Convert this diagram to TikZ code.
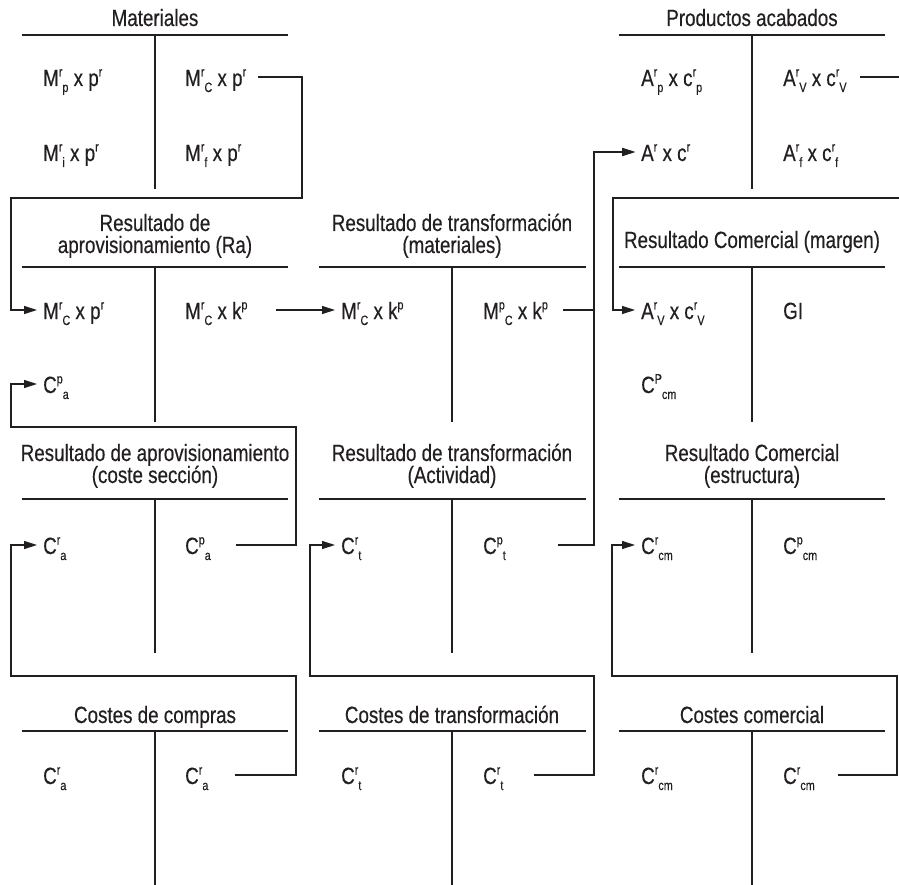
\documentclass[tikz,border=0pt]{standalone}
\usepackage{fontspec}
\setmainfont{Liberation Sans}[FakeStretch=0.80,FakeBold=0.4]
\usetikzlibrary{arrows.meta}
\definecolor{ink}{HTML}{231F20}
\newcommand\smallidx{\fontsize{13.5}{13.5}\selectfont}
\newcommand\supsb[2]{\raisebox{9.5pt}{\smallidx #1}\raisebox{-6pt}{\smallidx #2}}
\newcommand\supo[1]{\raisebox{9.5pt}{\smallidx #1}}
\begin{document}
\begin{tikzpicture}[x=1pt,y=-1pt,
  every node/.style={inner sep=0pt, text=ink, font=\fontsize{23.5}{22}\selectfont},
  ttl/.style={anchor=base},
  ent/.style={anchor=west, text height=18pt, text depth=0pt},
  tline/.style={line width=1.2pt, draw=ink},
  conn/.style={line width=1.2pt, draw=ink},
  arr/.style={conn, -{Triangle[length=13pt,width=8pt]}, shorten >=6pt}]
\useasboundingbox (0,0) rectangle (899,885);

% ---------- T accounts ----------
% row 1
\draw[tline] (22,35) -- (288,35) (155,35) -- (155,189);
\draw[tline] (619,35) -- (885,35) (752,35) -- (752,189);
% row 2
\draw[tline] (22,267) -- (288,267) (155,267) -- (155,422);
\draw[tline] (319,267) -- (586,267) (452,267) -- (452,422);
\draw[tline] (619,267) -- (885,267) (752,267) -- (752,422);
% row 3
\draw[tline] (22,499) -- (288,499) (155,499) -- (155,653);
\draw[tline] (319,499) -- (586,499) (452,499) -- (452,653);
\draw[tline] (619,499) -- (885,499) (752,499) -- (752,653);
% row 4
\draw[tline] (22,731) -- (288,731) (155,731) -- (155,885);
\draw[tline] (319,731) -- (586,731) (452,731) -- (452,885);
\draw[tline] (619,731) -- (885,731) (752,731) -- (752,885);

% ---------- titles ----------
\node[ttl] (tMat) at (155,26) {Materiales};
\node[ttl] (tPA) at (752,26) {Productos acabados};
\node[ttl] (tRa1) at (155,231) {Resultado de};
\node[ttl] (tRa2) at (155,253) {aprovisionamiento (Ra)};
\node[ttl] (tRt1) at (452,231) {Resultado de transformación};
\node[ttl] (tRt2) at (452,253) {(materiales)};
\node[ttl] (tRc) at (752,248) {Resultado Comercial (margen)};
\node[ttl] (tRs1) at (155,461) {Resultado de aprovisionamiento};
\node[ttl] (tRs2) at (155,483) {(coste sección)};
\node[ttl] (tRa3) at (452,461) {Resultado de transformación};
\node[ttl] (tRa4) at (452,483) {(Actividad)};
\node[ttl] (tRe1) at (752,461) {Resultado Comercial};
\node[ttl] (tRe2) at (752,483) {(estructura)};
\node[ttl] (tCc) at (155,723) {Costes de compras};
\node[ttl] (tCt) at (452,723) {Costes de transformación};
\node[ttl] (tCm) at (752,723) {Costes comercial};

% ---------- entries ----------
% row 1
\node[ent] (m1pl) at (43,77) {M\supsb{r}{p} x p\supo{r}};
\node[ent] (m1cr) at (185,77) {M\supsb{r}{C} x p\supo{r}};
\node[ent] (m1il) at (43,152) {M\supsb{r}{i} x p\supo{r}};
\node[ent] (m1fr) at (185,152) {M\supsb{r}{f} x p\supo{r}};
\node[ent] (a1pl) at (641,77) {A\supsb{r}{p} x c\supsb{r}{p}};
\node[ent] (a1vr) at (783,77) {A\supsb{r}{V} x c\supsb{r}{V}};
\node[ent] (a1l) at (641,152) {A\supo{r} x c\supo{r}};
\node[ent] (a1fr) at (783,152) {A\supsb{r}{f} x c\supsb{r}{f}};
% row 2
\node[ent] (r2cl) at (43,310) {M\supsb{r}{C} x p\supo{r}};
\node[ent] (r2kr) at (185,310) {M\supsb{r}{C} x k\supo{p}};
\node[ent] (r2pa) at (43,384) {C\supsb{p}{a}};
\node[ent] (t2l) at (341,310) {M\supsb{r}{C} x k\supo{p}};
\node[ent] (t2r) at (483,310) {M\supsb{p}{C} x k\supo{p}};
\node[ent] (c2l) at (641,310) {A\supsb{r}{V} x c\supsb{r}{V}};
\node[ent] (c2gi) at (783,310) {GI};
\node[ent] (c2p) at (641,384) {C\supsb{P}{cm}};
% row 3
\node[ent] (a3l) at (43,545) {C\supsb{r}{a}};
\node[ent] (a3r) at (185,545) {C\supsb{p}{a}};
\node[ent] (t3l) at (341,545) {C\supsb{r}{t}};
\node[ent] (t3r) at (483,545) {C\supsb{p}{t}};
\node[ent] (c3l) at (641,545) {C\supsb{r}{cm}};
\node[ent] (c3r) at (783,545) {C\supsb{p}{cm}};
% row 4
\node[ent] (k4al) at (43,775) {C\supsb{r}{a}};
\node[ent] (k4ar) at (185,775) {C\supsb{r}{a}};
\node[ent] (k4tl) at (341,775) {C\supsb{r}{t}};
\node[ent] (k4tr) at (483,775) {C\supsb{r}{t}};
\node[ent] (k4cl) at (641,775) {C\supsb{r}{cm}};
\node[ent] (k4cr) at (783,775) {C\supsb{r}{cm}};

% ---------- connector start points ----------
\coordinate (s1) at (258,77);
\coordinate (s2) at (276,310);
\coordinate (s3) at (563,310);
\coordinate (s4) at (558,545);
\coordinate (s5) at (860,77);
\coordinate (s6) at (236,545);
\coordinate (s7) at (235,775);
\coordinate (s8) at (534,775);
\coordinate (s9) at (838,775);

% ---------- connectors ----------
\draw[arr] (s1 |- m1cr.west) -- (302,77) -- (302,198) -- (11,198) |- (r2cl.west);
\draw[arr] (s2 |- r2kr.west) -- (t2l.west);
\draw[arr] (s3 |- t2r.west) -- (594,310) |- (a1l.west);
\draw[arr] (s4 |- t3r.west) -- (594,545) |- (a1l.west);
\draw[arr] (s5 |- a1vr.west) -- (901,77) -- (901,198) -- (613,198) |- (c2l.west);
\draw[arr] (s6 |- a3r.west) -- (296,545) -- (296,427) -- (11,427) |- (r2pa.west);
\draw[arr] (s7 |- k4ar.west) -- (296,775) -- (296,676) -- (11,676) |- (a3l.west);
\draw[arr] (s8 |- k4tr.west) -- (594,775) -- (594,676) -- (310,676) |- (t3l.west);
\draw[arr] (s9 |- k4cr.west) -- (897,775) -- (897,676) -- (612,676) |- (c3l.west);
\end{tikzpicture}
\end{document}
